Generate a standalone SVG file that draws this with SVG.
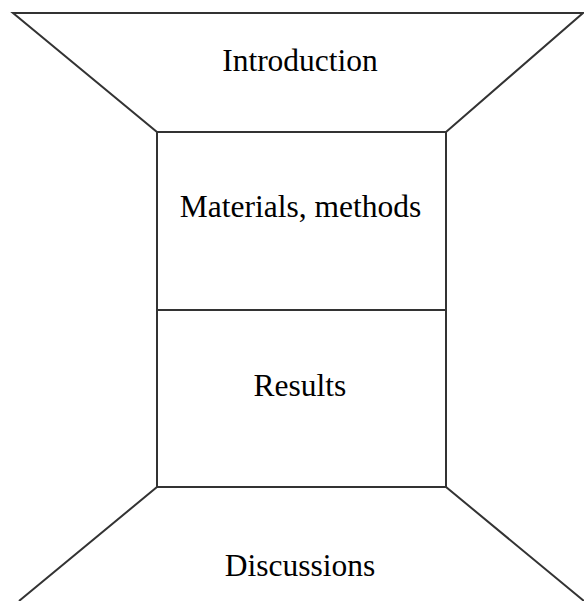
<svg xmlns="http://www.w3.org/2000/svg" width="584" height="601" viewBox="0 0 584 601">
<style>
.s{fill:none;stroke:#333;stroke-width:2;stroke-linejoin:miter}
.t{font-family:"Liberation Serif","Times New Roman",serif;font-size:31.5px;fill:#000;text-anchor:middle}
</style>
<rect width="584" height="601" fill="#fff"/>
<g id="introduction">
<polygon class="s" points="13,13 583,13 446,132 157,132"/>
<text class="t" x="300" y="71">Introduction</text>
</g>
<g id="materials">
<rect class="s" x="157" y="132" width="289" height="178"/>
<text class="t" x="300.5" y="217">Materials, methods</text>
</g>
<g id="results">
<rect class="s" x="157" y="310" width="289" height="177"/>
<text class="t" x="300" y="396">Results</text>
</g>
<g id="discussions">
<polyline class="s" points="19,601 157,487 446,487 584,601"/>
<text class="t" x="300" y="576">Discussions</text>
</g>
<g id="connectors"></g>
</svg>
